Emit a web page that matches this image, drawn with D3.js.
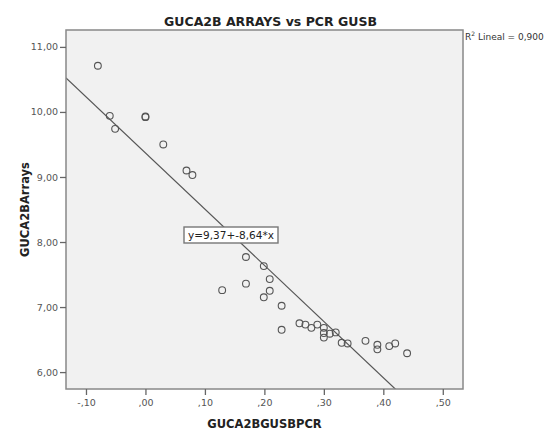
<!DOCTYPE html>
<html>
<head>
<meta charset="utf-8">
<script src="https://cdn.jsdelivr.net/npm/d3@7"></script>
<style>
  html, body { margin: 0; padding: 0; background: #fff; }
  svg { display: block; }
</style>
</head>
<body>
<svg id="chart" width="548" height="430"></svg>
<script>
// ---- data ----
const xValues = [-0.080, -0.060, -0.051, 0.000, 0.000, 0.030, 0.069, 0.079,
                 0.129, 0.169, 0.169, 0.199, 0.199, 0.209, 0.209, 0.229, 0.229,
                 0.259, 0.269, 0.279, 0.289, 0.300, 0.300, 0.300, 0.310, 0.320,
                 0.330, 0.340, 0.370, 0.390, 0.390, 0.410, 0.420, 0.440];
const yValues = [10.71, 9.94, 9.74, 9.93, 9.92, 9.50, 9.10, 9.03,
                 7.26, 7.77, 7.36, 7.63, 7.15, 7.43, 7.25, 7.02, 6.65,
                 6.75, 6.73, 6.68, 6.73, 6.68, 6.60, 6.53, 6.59, 6.61,
                 6.45, 6.44, 6.48, 6.42, 6.35, 6.40, 6.44, 6.29];
const fitIntercept = 9.37;
const fitSlope = -8.64;
const rSquared = 0.900;
const xTicks = [-0.10, 0.00, 0.10, 0.20, 0.30, 0.40, 0.50];
const yTicks = [6, 7, 8, 9, 10, 11];
const titleText = "GUCA2B ARRAYS vs PCR GUSB";
const xTitle = "GUCA2BGUSBPCR";
const yTitle = "GUCA2BArrays";

// ---- layout ----
const svg = d3.select("#chart");
const plot = { left: 66, top: 30, right: 463, bottom: 389 };
const font = "'DejaVu Sans', Verdana, sans-serif";

const x = d3.scaleLinear().domain([-0.1336, 0.534]).range([plot.left, plot.right]);
const y = d3.scaleLinear().domain([5.74, 11.26]).range([plot.bottom, plot.top]);

const num2 = d => Math.abs(d).toFixed(2);
const fmtX = d => (d < 0 ? "-" : "") + num2(d).replace(/^0\./, ",");
const fmtY = d => (d < 0 ? "-" : "") + num2(d).replace(".", ",");

// plot background
svg.append("rect")
  .attr("x", plot.left).attr("y", plot.top)
  .attr("width", plot.right - plot.left).attr("height", plot.bottom - plot.top)
  .attr("fill", "#f1f1f1");

svg.append("clipPath").attr("id", "clip")
  .append("rect")
  .attr("x", plot.left).attr("y", plot.top)
  .attr("width", plot.right - plot.left).attr("height", plot.bottom - plot.top);

// regression line
const [x0, x1] = x.domain();
svg.append("line")
  .attr("clip-path", "url(#clip)")
  .attr("x1", x(x0)).attr("y1", y(fitIntercept + fitSlope * x0))
  .attr("x2", x(x1)).attr("y2", y(fitIntercept + fitSlope * x1))
  .attr("stroke", "#555").attr("stroke-width", 1.2);

// points
svg.append("g").selectAll("circle")
  .data(xValues.map((v, i) => [v, yValues[i]]))
  .join("circle")
  .attr("cx", d => x(d[0])).attr("cy", d => y(d[1]))
  .attr("r", 3.4)
  .attr("fill", "none").attr("stroke", "#555").attr("stroke-width", 1.1);

// frame
svg.append("rect")
  .attr("x", plot.left).attr("y", plot.top)
  .attr("width", plot.right - plot.left).attr("height", plot.bottom - plot.top)
  .attr("fill", "none").attr("stroke", "#888").attr("stroke-width", 1.5);

// axes
const yAxis = svg.append("g").attr("transform", `translate(${plot.left},0)`)
  .call(d3.axisLeft(y).tickValues(yTicks).tickFormat(fmtY).tickSize(6).tickPadding(2));
const xAxis = svg.append("g").attr("transform", `translate(0,${plot.bottom})`)
  .call(d3.axisBottom(x).tickValues(xTicks).tickFormat(fmtX).tickSize(6).tickPadding(4));
[yAxis, xAxis].forEach(g => {
  g.select(".domain").remove();
  g.selectAll(".tick line").attr("stroke", "#666").attr("stroke-width", 1.3);
  g.selectAll(".tick text").attr("fill", "#555")
    .style("font-family", font).style("font-size", "9.5px");
});

// equation label
const eqG = svg.append("g").attr("transform", `translate(231,235)`);
eqG.append("rect").attr("x", -47).attr("y", -8).attr("width", 94).attr("height", 16)
  .attr("fill", "#fff").attr("stroke", "#777").attr("stroke-width", 1.4);
eqG.append("text").attr("text-anchor", "middle").attr("dy", "0.35em")
  .style("font-family", font).style("font-size", "10.5px").attr("fill", "#222")
  .text(`y=${fmtY(fitIntercept)}+${fmtY(fitSlope)}*x`);

// R squared
const r2 = svg.append("text").attr("x", 465).attr("y", 40)
  .style("font-family", font).style("font-size", "9px").attr("fill", "#333");
r2.append("tspan").text("R");
r2.append("tspan").attr("dy", -4).style("font-size", "6px").text("2");
r2.append("tspan").attr("dy", 4).text(" Lineal = " + rSquared.toFixed(3).replace(".", ","));

// titles
svg.append("text").attr("x", (plot.left + plot.right) / 2 + 6).attr("y", 26)
  .attr("text-anchor", "middle")
  .style("font-family", font).style("font-size", "12.5px").style("font-weight", "bold")
  .attr("fill", "#222").text(titleText);
svg.append("text").attr("x", (plot.left + plot.right) / 2).attr("y", 428)
  .attr("text-anchor", "middle")
  .style("font-family", font).style("font-size", "11.5px").style("font-weight", "bold")
  .attr("fill", "#222").text(xTitle);
svg.append("text")
  .attr("transform", `translate(29,${(plot.top + plot.bottom) / 2}) rotate(-90)`)
  .attr("text-anchor", "middle")
  .style("font-family", font).style("font-size", "11.5px").style("font-weight", "bold")
  .attr("fill", "#222").text(yTitle);
</script>
</body>
</html>
